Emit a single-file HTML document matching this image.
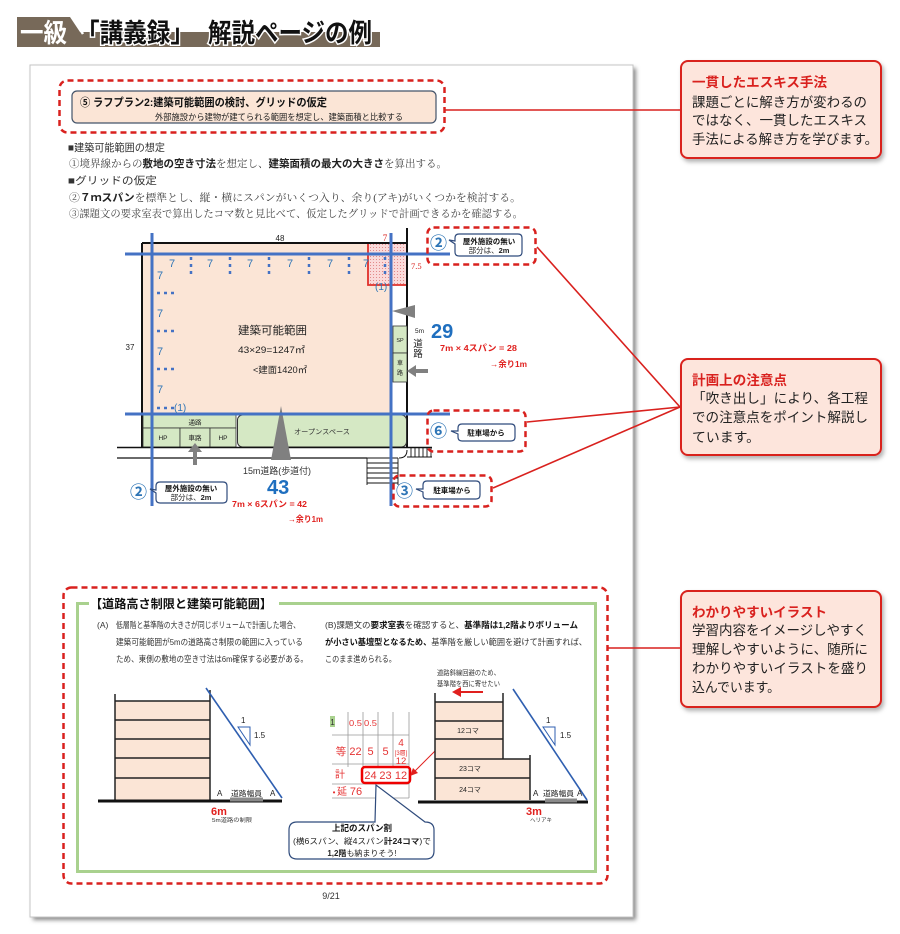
<!DOCTYPE html>
<html><head><meta charset="utf-8">
<style>
html,body{margin:0;padding:0;background:#fff;}
svg{display:block;}
text{font-family:"Liberation Sans","Noto Sans CJK JP",sans-serif;}
.sf{font-family:"Liberation Serif","Noto Serif CJK SC",serif;}
</style></head><body>
<svg width="900" height="934" viewBox="0 0 900 934" xmlns="http://www.w3.org/2000/svg">
<defs>
<filter id="sh" x="-5%" y="-5%" width="115%" height="115%"><feGaussianBlur stdDeviation="2"/></filter>
<filter id="ds" x="-10%" y="-10%" width="125%" height="130%"><feDropShadow dx="2" dy="3" stdDeviation="2" flood-color="#000" flood-opacity="0.3"/></filter>
<pattern id="dots" width="3" height="3" patternUnits="userSpaceOnUse"><rect width="3" height="3" fill="#fadada"/><circle cx="1.5" cy="1.5" r="0.55" fill="#d77"/></pattern>
</defs>

<!-- Header -->
<polygon points="17,17 70,17 80,32 380,32 380,47 17,47" fill="#776959"/>
<line x1="72" y1="17" x2="83" y2="34" stroke="#fff" stroke-width="2.5"/>
<text x="20" y="42" font-size="26" font-weight="bold" fill="#fff" textLength="47" lengthAdjust="spacingAndGlyphs">一級</text>
<text x="76" y="42" font-size="26" font-weight="bold" fill="#111" stroke="#fff" stroke-width="3" paint-order="stroke" textLength="118" lengthAdjust="spacingAndGlyphs">「講義録」</text>
<text x="208" y="42" font-size="26" font-weight="bold" fill="#111" stroke="#fff" stroke-width="3" paint-order="stroke" textLength="164" lengthAdjust="spacingAndGlyphs">解説ページの例</text>

<!-- Page -->
<rect x="33" y="68" width="603" height="852" fill="#888" filter="url(#sh)"/>
<rect x="30" y="65" width="603" height="852" fill="#fff" stroke="#c4c4c4" stroke-width="1"/>

<!-- Top dashed box -->
<rect x="59.5" y="80.5" width="385" height="52" rx="8" fill="none" stroke="#d9211e" stroke-width="2.5" stroke-dasharray="6 4"/>
<rect x="72" y="91" width="364" height="32" rx="5" fill="#fbe5d6" stroke="#44546a" stroke-width="1.2"/>
<text x="80" y="106" font-size="11" font-weight="bold" fill="#111" textLength="247" lengthAdjust="spacingAndGlyphs">⑤ ラフプラン2:建築可能範囲の検討、グリッドの仮定</text>
<text x="155" y="120" font-size="8.5" fill="#222" textLength="248" lengthAdjust="spacingAndGlyphs">外部施設から建物が建てられる範囲を想定し、建築面積と比較する</text>
<line x1="445" y1="110" x2="681" y2="110" stroke="#d9211e" stroke-width="1.5"/>

<!-- paragraph -->
<text x="68" y="151" font-size="10.5" fill="#333" textLength="97" lengthAdjust="spacingAndGlyphs">■建築可能範囲の想定</text>
<text x="69" y="167" font-size="10.5" fill="#444" textLength="378" lengthAdjust="spacingAndGlyphs"><tspan class="sf">①境界線からの</tspan><tspan font-weight="bold" fill="#222">敷地の空き寸法</tspan><tspan class="sf">を想定し、</tspan><tspan font-weight="bold" fill="#222">建築面積の最大の大きさ</tspan><tspan class="sf">を算出する。</tspan></text>
<text x="68" y="184" font-size="10.5" fill="#333" textLength="89" lengthAdjust="spacingAndGlyphs">■グリッドの仮定</text>
<text x="69" y="201" font-size="10.5" fill="#444" textLength="452" lengthAdjust="spacingAndGlyphs"><tspan class="sf">②</tspan><tspan font-weight="bold" fill="#222">７ｍスパン</tspan><tspan class="sf">を標準とし、縦・横にスパンがいくつ入り、余り(アキ)がいくつかを検討する。</tspan></text>
<text x="69" y="217" class="sf" font-size="10.5" fill="#444" textLength="454" lengthAdjust="spacingAndGlyphs">③課題文の要求室表で算出したコマ数と見比べて、仮定したグリッドで計画できるかを確認する。</text>

<!-- Site plan -->
<rect x="142" y="243" width="249" height="172" fill="#fbe5d6"/>
<rect x="368" y="243" width="39" height="42" fill="url(#dots)"/>
<polyline points="368,243 368,285 407,285" fill="none" stroke="#e0302a" stroke-width="1.8"/>
<line x1="142" y1="243" x2="407" y2="243" stroke="#111" stroke-width="2"/>
<line x1="142" y1="243" x2="142" y2="448" stroke="#111" stroke-width="2"/>
<line x1="407" y1="228" x2="407" y2="448" stroke="#111" stroke-width="2"/>
<rect x="143" y="415" width="93" height="13" fill="#d5e8c4" stroke="#333" stroke-width="0.8"/>
<rect x="143" y="428" width="37" height="19" fill="#d5e8c4" stroke="#333" stroke-width="0.8"/>
<rect x="180" y="428" width="30" height="19" fill="#d5e8c4" stroke="#333" stroke-width="0.8"/>
<rect x="210" y="428" width="26" height="19" fill="#d5e8c4" stroke="#333" stroke-width="0.8"/>
<rect x="237.5" y="415" width="169" height="32" rx="5" fill="#d5e8c4" stroke="#333" stroke-width="1"/>
<text x="195" y="424.5" font-size="6.5" fill="#222" text-anchor="middle">通路</text>
<text x="163" y="440" font-size="6.5" fill="#222" text-anchor="middle">HP</text>
<text x="195" y="440" font-size="6.5" fill="#222" text-anchor="middle">車路</text>
<text x="223" y="440" font-size="6.5" fill="#222" text-anchor="middle">HP</text>
<text x="322" y="434" font-size="7" fill="#333" text-anchor="middle" textLength="56" lengthAdjust="spacingAndGlyphs">オープンスペース</text>
<rect x="393" y="326" width="14" height="27" fill="#d5e8c4" stroke="#333" stroke-width="0.8"/>
<rect x="393" y="353" width="14" height="29" fill="#d5e8c4" stroke="#333" stroke-width="0.8"/>
<text x="400" y="342" font-size="5.5" fill="#222" text-anchor="middle">SP</text>
<text x="400" y="365" font-size="6" fill="#222" text-anchor="middle">車</text>
<text x="400" y="375" font-size="6" fill="#222" text-anchor="middle">路</text>
<line x1="117" y1="447.5" x2="432" y2="447.5" stroke="#111" stroke-width="1.5"/>
<line x1="117" y1="458" x2="367" y2="458" stroke="#111" stroke-width="1.2"/>
<path d="M399,458 Q407,458 407,450" fill="none" stroke="#111" stroke-width="1"/>
<line x1="407" y1="457" x2="432" y2="457" stroke="#111" stroke-width="1"/>
<g stroke="#111" stroke-width="0.9">
<line x1="411" y1="448" x2="411" y2="457"/><line x1="415" y1="448" x2="415" y2="457"/><line x1="419" y1="448" x2="419" y2="457"/><line x1="423" y1="448" x2="423" y2="457"/><line x1="427" y1="448" x2="427" y2="457"/><line x1="431" y1="448" x2="431" y2="457"/>
<line x1="367" y1="458" x2="367" y2="485"/>
<line x1="367" y1="458" x2="398" y2="458"/><line x1="367" y1="463" x2="398" y2="463"/><line x1="367" y1="468" x2="398" y2="468"/><line x1="367" y1="473" x2="398" y2="473"/><line x1="367" y1="478" x2="398" y2="478"/><line x1="367" y1="483" x2="398" y2="483"/>
<line x1="398" y1="458" x2="398" y2="485"/>
</g>
<polygon points="392,311 415,305 415,318" fill="#808080"/>
<polygon points="407,371 416,365 416,377" fill="#808080"/>
<rect x="416" y="369" width="12" height="4" fill="#808080"/>
<polygon points="281,406 271,460 291,460" fill="#808080"/>
<polygon points="195,443 188,452 202,452" fill="#808080"/>
<rect x="193" y="452" width="4" height="13" fill="#808080"/>
<g stroke="#4472c4" stroke-width="3">
<line x1="125" y1="254" x2="450" y2="254"/>
<line x1="125" y1="414" x2="450" y2="414"/>
<line x1="152" y1="233" x2="152" y2="506"/>
<line x1="391" y1="233" x2="391" y2="506"/>
</g>
<g stroke="#4472c4" stroke-width="2.5" stroke-dasharray="3 4">
<line x1="191" y1="257" x2="191" y2="274"/><line x1="230" y1="257" x2="230" y2="274"/><line x1="269" y1="257" x2="269" y2="274"/><line x1="309" y1="257" x2="309" y2="274"/><line x1="349" y1="257" x2="349" y2="274"/><line x1="385" y1="257" x2="385" y2="274"/>
<line x1="157" y1="293" x2="175" y2="293"/><line x1="157" y1="331" x2="175" y2="331"/><line x1="157" y1="369" x2="175" y2="369"/><line x1="157" y1="408" x2="175" y2="408"/>
</g>
<g fill="#2e75b6" font-size="11">
<text x="169" y="267">7</text><text x="207" y="267">7</text><text x="247" y="267">7</text><text x="287" y="267">7</text><text x="327" y="267">7</text><text x="363" y="267">7</text>
<text x="157" y="279">7</text><text x="157" y="317">7</text><text x="157" y="355">7</text><text x="157" y="393">7</text>
</g>
<text x="174" y="411" font-size="10" fill="#2e75b6">(1)</text>
<text x="375" y="290" font-size="10" fill="#2e75b6">(1)</text>
<text x="280" y="241" font-size="8" fill="#222" text-anchor="middle">48</text>
<text x="130" y="350" font-size="8" fill="#222" text-anchor="middle">37</text>
<text x="385" y="241" class="sf" font-size="9" fill="#d9211e" text-anchor="middle">7</text>
<text x="411" y="269" class="sf" font-size="8.5" fill="#d9211e">7.5</text>
<text x="238" y="334" font-size="11" fill="#222" textLength="69" lengthAdjust="spacingAndGlyphs">建築可能範囲</text>
<text x="238" y="353" font-size="9" fill="#222" textLength="67" lengthAdjust="spacingAndGlyphs">43×29=1247㎡</text>
<text x="253" y="373" font-size="9" fill="#222" textLength="54" lengthAdjust="spacingAndGlyphs">&lt;建面1420㎡</text>
<text x="415" y="333" font-size="6.5" fill="#222">5m</text>
<text x="418" y="347" font-size="9.5" fill="#222" text-anchor="middle">道</text>
<text x="418" y="357" font-size="9.5" fill="#222" text-anchor="middle">路</text>
<text x="431" y="338" font-size="20" font-weight="bold" fill="#1f6fbf">29</text>
<text x="440" y="351" font-size="8.5" font-weight="bold" fill="#e0201e" textLength="77" lengthAdjust="spacingAndGlyphs">7m × 4スパン = 28</text>
<text x="490" y="367" font-size="8.5" font-weight="bold" fill="#e0201e" textLength="37" lengthAdjust="spacingAndGlyphs">→余り1m</text>
<text x="243" y="474" font-size="9" fill="#333" textLength="68" lengthAdjust="spacingAndGlyphs">15m道路(歩道付)</text>
<text x="267" y="494" font-size="20" font-weight="bold" fill="#1f6fbf">43</text>
<text x="232" y="507" font-size="8.5" font-weight="bold" fill="#e0201e" textLength="75" lengthAdjust="spacingAndGlyphs">7m × 6スパン = 42</text>
<text x="288" y="522" font-size="8.5" font-weight="bold" fill="#e0201e" textLength="35" lengthAdjust="spacingAndGlyphs">→余り1m</text>

<!-- callout ② top -->
<rect x="427.5" y="227.5" width="108" height="37" rx="6" fill="none" stroke="#d9211e" stroke-width="2.5" stroke-dasharray="6 4"/>
<text x="430" y="249" font-size="17" fill="#2e75b6" font-weight="bold">②</text>
<path d="M459,234 H518 Q522,234 522,238 V252 Q522,256 518,256 H459 Q455,256 455,252 V244 L449,240 L455,241 V238 Q455,234 459,234 Z" fill="#fff" stroke="#2f4b7c" stroke-width="1.2"/>
<text x="489" y="244" font-size="7.5" font-weight="bold" fill="#111" text-anchor="middle">屋外施設の無い</text>
<text x="489" y="253" font-size="7.5" fill="#222" text-anchor="middle">部分は、<tspan font-weight="bold">2m</tspan></text>

<!-- callout ② bottom -->
<text x="130" y="498" font-size="17" fill="#2e75b6" font-weight="bold">②</text>
<path d="M160,482 H223 Q227,482 227,486 V499 Q227,503 223,503 H160 Q156,503 156,499 V493 L150,489 L156,490 V486 Q156,482 160,482 Z" fill="#fff" stroke="#2f4b7c" stroke-width="1.2"/>
<text x="191" y="491" font-size="7.5" font-weight="bold" fill="#111" text-anchor="middle">屋外施設の無い</text>
<text x="191" y="500" font-size="7.5" fill="#222" text-anchor="middle">部分は、<tspan font-weight="bold">2m</tspan></text>

<!-- callout ⑥ -->
<rect x="427.5" y="410.5" width="98" height="41" rx="6" fill="none" stroke="#d9211e" stroke-width="2.5" stroke-dasharray="6 4"/>
<text x="430" y="437" font-size="17" fill="#2e75b6" font-weight="bold">⑥</text>
<path d="M462,424 H511 Q515,424 515,428 V437 Q515,441 511,441 H462 Q458,441 458,437 V434 L451,431 L458,431 V428 Q458,424 462,424 Z" fill="#fff" stroke="#2f4b7c" stroke-width="1.2"/>
<text x="486" y="435.5" font-size="7.5" font-weight="bold" fill="#111" text-anchor="middle">駐車場から</text>

<!-- callout ③ -->
<rect x="393.5" y="475.5" width="98" height="31" rx="6" fill="none" stroke="#d9211e" stroke-width="2.5" stroke-dasharray="6 4"/>
<text x="396" y="497" font-size="17" fill="#2e75b6" font-weight="bold">③</text>
<path d="M427,481 H476 Q480,481 480,485 V495 Q480,499 476,499 H427 Q423,499 423,495 V492 L416,489 L423,489 V485 Q423,481 427,481 Z" fill="#fff" stroke="#2f4b7c" stroke-width="1.2"/>
<text x="452" y="493" font-size="7.5" font-weight="bold" fill="#111" text-anchor="middle">駐車場から</text>

<g stroke="#d9211e" stroke-width="1.6">
<line x1="537" y1="247" x2="680" y2="407"/>
<line x1="527" y1="422" x2="680" y2="407"/>
<line x1="493" y1="488" x2="680" y2="407"/>
</g>

<!-- Right callouts -->
<rect x="681" y="61" width="200" height="97" rx="7" fill="#fde5dc" stroke="#d9211e" stroke-width="2" filter="url(#ds)"/>
<text x="692" y="87" font-size="13.5" font-weight="bold" fill="#d9211e" textLength="135" lengthAdjust="spacingAndGlyphs">一貫したエスキス手法</text>
<text x="692" y="107" font-size="13.5" fill="#222" textLength="175" lengthAdjust="spacingAndGlyphs">課題ごとに解き方が変わるの</text>
<text x="692" y="125" font-size="13.5" fill="#222" textLength="175" lengthAdjust="spacingAndGlyphs">ではなく、一貫したエスキス</text>
<text x="692" y="144" font-size="13.5" fill="#222" textLength="186" lengthAdjust="spacingAndGlyphs">手法による解き方を学びます。</text>

<rect x="681" y="359" width="200" height="96" rx="7" fill="#fde5dc" stroke="#d9211e" stroke-width="2" filter="url(#ds)"/>
<text x="692" y="385" font-size="13.5" font-weight="bold" fill="#d9211e" textLength="95" lengthAdjust="spacingAndGlyphs">計画上の注意点</text>
<text x="692" y="403" font-size="13.5" fill="#222" textLength="176" lengthAdjust="spacingAndGlyphs">「吹き出し」により、各工程</text>
<text x="692" y="422" font-size="13.5" fill="#222" textLength="176" lengthAdjust="spacingAndGlyphs">での注意点をポイント解説し</text>
<text x="692" y="442" font-size="13.5" fill="#222" textLength="68" lengthAdjust="spacingAndGlyphs">ています。</text>

<rect x="681" y="591" width="200" height="116" rx="7" fill="#fde5dc" stroke="#d9211e" stroke-width="2" filter="url(#ds)"/>
<text x="692" y="617" font-size="13.5" font-weight="bold" fill="#d9211e" textLength="135" lengthAdjust="spacingAndGlyphs">わかりやすいイラスト</text>
<text x="692" y="635" font-size="13.5" fill="#222" textLength="175" lengthAdjust="spacingAndGlyphs">学習内容をイメージしやすく</text>
<text x="692" y="654" font-size="13.5" fill="#222" textLength="176" lengthAdjust="spacingAndGlyphs">理解しやすいように、随所に</text>
<text x="692" y="673" font-size="13.5" fill="#222" textLength="176" lengthAdjust="spacingAndGlyphs">わかりやすいイラストを盛り</text>
<text x="692" y="692" font-size="13.5" fill="#222" textLength="88" lengthAdjust="spacingAndGlyphs">込んでいます。</text>
<line x1="608" y1="648" x2="681" y2="648" stroke="#d9211e" stroke-width="1.6"/>

<!-- Lower section -->
<rect x="63.5" y="587.5" width="544" height="296" rx="8" fill="none" stroke="#d9211e" stroke-width="2.5" stroke-dasharray="6 4"/>
<rect x="77.5" y="603.5" width="518" height="268" fill="none" stroke="#a9d18e" stroke-width="3"/>
<rect x="89" y="596" width="190" height="15" fill="#fff"/>
<text x="90" y="608" font-size="12" font-weight="bold" fill="#111" textLength="182" lengthAdjust="spacingAndGlyphs">【道路高さ制限と建築可能範囲】</text>

<text x="97" y="628" font-size="8.5" fill="#333">(A)</text>
<text x="116" y="628" font-size="8.5" fill="#333" textLength="184" lengthAdjust="spacingAndGlyphs">低層階と基準階の大きさが同じボリュームで計画した場合、</text>
<text x="116" y="645" font-size="8.5" fill="#333" textLength="187" lengthAdjust="spacingAndGlyphs">建築可能範囲が5mの道路高さ制限の範囲に入っている</text>
<text x="116" y="662" font-size="8.5" fill="#333" textLength="192" lengthAdjust="spacingAndGlyphs">ため、東側の敷地の空き寸法は6m確保する必要がある。</text>
<text x="325" y="628" font-size="8.5" fill="#333" textLength="253" lengthAdjust="spacingAndGlyphs">(B)課題文の<tspan font-weight="bold" fill="#111">要求室表</tspan>を確認すると、<tspan font-weight="bold" fill="#111">基準階は1,2階よりボリューム</tspan></text>
<text x="325" y="645" font-size="8.5" fill="#333" textLength="262" lengthAdjust="spacingAndGlyphs"><tspan font-weight="bold" fill="#111">が小さい基壇型となるため、</tspan>基準階を厳しい範囲を避けて計画すれば、</text>
<text x="325" y="662" font-size="8.5" fill="#333" textLength="71" lengthAdjust="spacingAndGlyphs">このまま進められる。</text>

<!-- Left illustration -->
<rect x="115" y="701" width="95" height="99" fill="#fbe5d6"/>
<g stroke="#222" stroke-width="1.5">
<line x1="115" y1="701" x2="210" y2="701"/><line x1="115" y1="720" x2="210" y2="720"/><line x1="115" y1="739" x2="210" y2="739"/><line x1="115" y1="758" x2="210" y2="758"/><line x1="115" y1="778" x2="210" y2="778"/>
<line x1="115" y1="694" x2="115" y2="800"/><line x1="210" y1="690" x2="210" y2="800"/>
</g>
<line x1="98" y1="801" x2="282" y2="801" stroke="#111" stroke-width="3"/>
<line x1="230" y1="799.5" x2="263" y2="799.5" stroke="#8a8a8a" stroke-width="4"/>
<line x1="206" y1="688" x2="282" y2="798" stroke="#2f5fb0" stroke-width="1.6"/>
<polygon points="238,727 250,727 250,745" fill="none" stroke="#2f5fb0" stroke-width="1"/>
<text x="241" y="723" font-size="8" fill="#222">1</text>
<text x="254" y="738" font-size="8" fill="#222">1.5</text>
<text x="217" y="796" font-size="8" fill="#222">A</text>
<text x="231" y="796" font-size="7.5" fill="#222" textLength="31" lengthAdjust="spacingAndGlyphs">道路幅員</text>
<text x="270" y="796" font-size="8" fill="#222">A</text>
<text x="211" y="815" font-size="11" font-weight="bold" fill="#e0201e">6m</text>
<text x="212" y="822" font-size="5.5" fill="#333" textLength="40" lengthAdjust="spacingAndGlyphs">5m道路の制限</text>

<!-- Table -->
<g stroke="#999" stroke-width="0.8">
<line x1="348" y1="712" x2="348" y2="767"/>
<line x1="363" y1="712" x2="363" y2="767"/>
<line x1="378" y1="712" x2="378" y2="767"/>
<line x1="393" y1="712" x2="393" y2="767"/>
<line x1="409" y1="712" x2="409" y2="798"/>
<line x1="332" y1="735" x2="409" y2="735"/>
<line x1="332" y1="764" x2="409" y2="764"/>
<line x1="332" y1="784" x2="409" y2="784"/>
<line x1="332" y1="798" x2="409" y2="798"/>
</g>
<rect x="330" y="716" width="5" height="11" fill="#a9d18e"/>
<text x="332.5" y="725" font-size="8" fill="#333" text-anchor="middle">1</text>
<g fill="#e53333" text-anchor="middle">
<text x="355.5" y="726" font-size="8.5" textLength="13" lengthAdjust="spacingAndGlyphs">0.5</text><text x="370.5" y="726" font-size="8.5" textLength="13" lengthAdjust="spacingAndGlyphs">0.5</text>
<text x="341" y="755" font-size="10.5">等</text>
<text x="355.5" y="755" font-size="11">22</text><text x="370.5" y="755" font-size="11">5</text><text x="385.5" y="755" font-size="11">5</text>
<text x="401" y="746" font-size="10">4</text>
<text x="401" y="755" font-size="6">[3層]</text>
<text x="401" y="764" font-size="9.5">12</text>
<text x="340" y="778" font-size="10">計</text>
<text x="370.5" y="779" font-size="11">24</text><text x="385.5" y="779" font-size="11">23</text><text x="401" y="779" font-size="11">12</text>
<text x="334" y="795" font-size="8">•</text>
<text x="342" y="795" font-size="10">延</text>
<text x="356" y="795" font-size="11">76</text>
</g>
<rect x="362" y="767" width="48" height="16" rx="3" fill="none" stroke="#e00" stroke-width="2.5"/>
<line x1="444" y1="742" x2="414" y2="772" stroke="#e0201e" stroke-width="1"/>
<polygon points="410,776 413,768 418,773" fill="#e0201e"/>

<!-- Span callout -->
<path d="M297,822 H375 L376,785 L425,822 Q434,822 434,830 V851 Q434,859 426,859 H297 Q289,859 289,851 V830 Q289,822 297,822 Z" fill="#fff" stroke="#2f4b7c" stroke-width="1.2"/>
<text x="362" y="831" font-size="8.5" font-weight="bold" fill="#111" text-anchor="middle">上記のスパン割</text>
<text x="362" y="844" font-size="8" fill="#222" text-anchor="middle" textLength="138" lengthAdjust="spacingAndGlyphs">(横6スパン、縦4スパン<tspan font-weight="bold">計24コマ</tspan>)で</text>
<text x="362" y="856" font-size="8" fill="#222" text-anchor="middle"><tspan font-weight="bold">1,2階</tspan>も納まりそう!</text>

<!-- Right illustration -->
<text x="437" y="675" font-size="7" fill="#333" textLength="63" lengthAdjust="spacingAndGlyphs">道路斜線回避のため、</text>
<text x="437" y="686" font-size="7" fill="#333" textLength="63" lengthAdjust="spacingAndGlyphs">基準階を西に寄せたい</text>
<line x1="483" y1="692" x2="459" y2="692" stroke="#e0201e" stroke-width="2"/>
<polygon points="452,692 461,687 461,697" fill="#e0201e"/>
<rect x="435" y="702" width="68" height="57" fill="#fbe5d6"/>
<rect x="435" y="759" width="95" height="41" fill="#fbe5d6"/>
<g stroke="#222" stroke-width="1.5">
<line x1="435" y1="702" x2="503" y2="702"/><line x1="435" y1="721" x2="503" y2="721"/><line x1="435" y1="739" x2="503" y2="739"/><line x1="435" y1="759" x2="530" y2="759"/><line x1="435" y1="778" x2="530" y2="778"/>
<line x1="435" y1="693" x2="435" y2="800"/><line x1="503" y1="693" x2="503" y2="759"/><line x1="530" y1="755" x2="530" y2="800"/>
</g>
<text x="468" y="733" font-size="7" fill="#222" text-anchor="middle">12コマ</text>
<text x="470" y="771" font-size="7" fill="#222" text-anchor="middle">23コマ</text>
<text x="470" y="792" font-size="7" fill="#222" text-anchor="middle">24コマ</text>
<line x1="418" y1="802" x2="588" y2="802" stroke="#111" stroke-width="3"/>
<line x1="545" y1="800.5" x2="577" y2="800.5" stroke="#8a8a8a" stroke-width="4"/>
<line x1="513" y1="689" x2="587" y2="800" stroke="#2f5fb0" stroke-width="1.6"/>
<polygon points="543,727 555,727 555,745" fill="none" stroke="#2f5fb0" stroke-width="1"/>
<text x="546" y="723" font-size="8" fill="#222">1</text>
<text x="560" y="738" font-size="8" fill="#222">1.5</text>
<text x="533" y="796" font-size="8" fill="#222">A</text>
<text x="543" y="796" font-size="7.5" fill="#222" textLength="31" lengthAdjust="spacingAndGlyphs">道路幅員</text>
<text x="577" y="796" font-size="8" fill="#222">A</text>
<text x="526" y="815" font-size="11" font-weight="bold" fill="#e0201e">3m</text>
<text x="530" y="822" font-size="5.5" fill="#333">ヘリアキ</text>

<text x="331" y="899" font-size="9" fill="#333" text-anchor="middle">9/21</text>
</svg>
</body></html>
